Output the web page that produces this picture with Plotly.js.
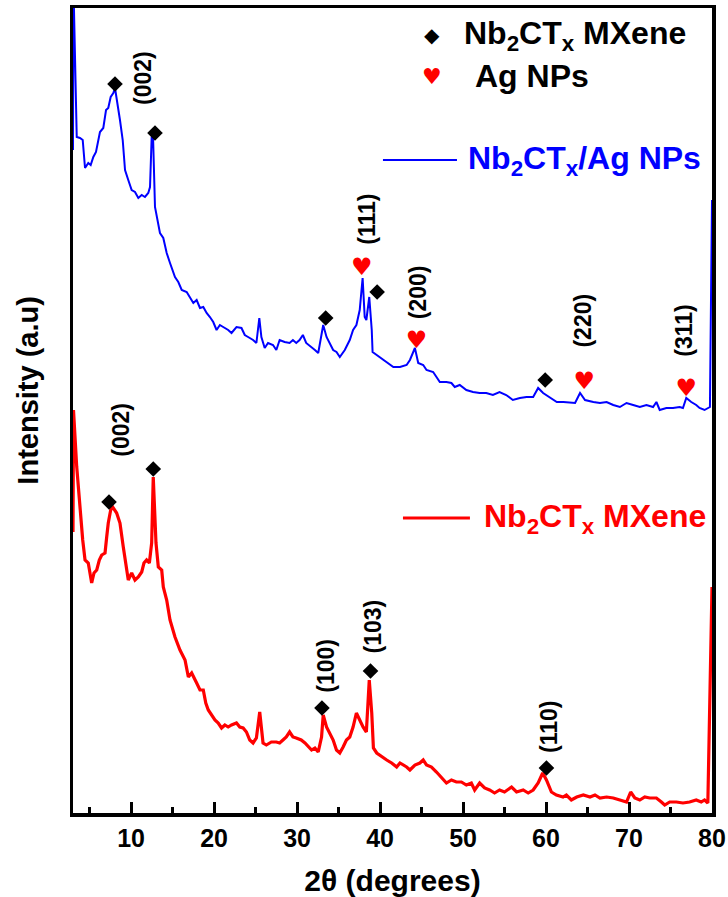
<!DOCTYPE html>
<html>
<head>
<meta charset="utf-8">
<script src="https://cdn.plot.ly/plotly-3.0.1.min.js"></script>
<style>html,body{margin:0;padding:0;background:#fff;}#chart{width:728px;height:897px;}</style>
</head>
<body>
<div id="chart"></div>
<script>
// 2θ (degrees) and intensity (a.u.) for Nb2CTx/Ag NPs (blue)
var blueX = [3.0,3.05,3.45,3.84,4.17,4.45,4.84,5.13,5.45,5.77,
  6.25,6.65,6.98,7.25,7.54,7.86,8.06,8.46,8.66,8.99,
  9.27,9.66,10.07,10.47,10.87,11.28,11.67,12.07,12.28,12.48,
  12.64,12.88,13.16,13.48,13.88,14.29,14.69,15.29,15.69,16.1,
  16.7,17.1,17.5,17.9,18.3,18.7,19.1,19.5,19.9,20.3,
  20.7,21.1,21.7,22.1,22.7,23.3,23.7,24.1,24.7,25.1,
  25.45,25.7,26.1,26.5,27.1,27.5,27.9,28.5,29.1,29.5,
  29.9,30.3,30.7,31.1,31.75,32.15,32.55,33.15,33.55,34.0,
  34.35,34.75,35.15,35.75,36.35,36.75,37.15,37.55,37.9,38.15,
  38.35,38.7,39.0,39.1,39.6,40.0,40.8,41.6,42.4,43.2,
  43.6,44.2,44.6,45.2,45.6,46.4,46.8,47.2,48.0,48.6,
  49.0,49.6,50.4,51.2,52.0,52.8,53.6,54.4,55.2,56.0,
  56.85,57.65,58.45,59.05,59.65,60.5,61.3,62.1,62.9,63.5,
  64.1,64.7,65.7,66.5,67.3,68.1,68.9,69.7,70.5,71.3,
  72.1,72.9,73.3,73.7,74.5,75.3,76.1,76.5,76.9,77.5,
  78.1,78.5,79.1,79.5,79.75,80.0];
var blueY = [663,830,676,675,673,645,650,648,656,661,
  681,685,703,705,716,720,725,706,693,673,
  643,633,623,621,615,618,616,620,626,676,
  678,606,593,580,575,560,550,536,531,523,
  521,515,510,513,505,506,500,496,491,483,
  488,486,483,480,486,485,478,476,473,470,
  495,476,465,470,468,463,473,471,470,473,
  470,473,478,470,466,463,460,488,476,468,
  463,461,456,463,473,483,488,503,535,496,
  493,516,483,461,458,455,450,446,446,448,
  453,465,450,448,443,441,436,431,431,430,
  426,428,423,421,420,420,418,421,418,413,
  415,416,416,425,420,415,411,411,410,410,
  420,413,411,410,411,408,406,410,408,406,
  408,406,411,403,405,405,406,405,415,411,
  408,405,403,405,406,613];

// Nb2CTx MXene (red)
var redX = [3.0,3.06,3.45,3.84,4.17,4.45,4.84,5.25,5.53,5.86,
  6.17,6.46,6.86,7.06,7.25,7.54,7.78,8.26,8.66,9.06,
  9.39,9.66,10.07,10.47,10.87,11.28,11.55,11.87,12.2,12.48,
  12.67,13.0,13.28,13.69,13.88,14.29,14.69,15.29,15.89,16.5,
  16.9,17.3,17.9,18.3,18.7,19.0,19.3,19.7,20.1,20.5,
  20.9,21.3,21.7,22.1,22.7,23.1,23.5,23.9,24.3,24.7,
  25.1,25.5,25.9,26.3,26.9,27.5,27.9,28.3,28.7,29.1,
  29.5,29.9,30.5,30.95,31.35,31.75,32.15,32.55,32.95,33.15,
  33.55,33.95,34.35,34.75,35.15,35.55,35.95,36.35,36.75,37.15,
  37.55,37.95,38.35,38.7,39.0,39.2,39.6,40.2,40.8,41.4,
  42.0,42.4,43.2,43.6,44.2,44.8,45.2,45.6,46.2,46.8,
  47.4,48.0,48.6,49.2,49.8,50.4,51.0,51.4,52.0,52.6,
  53.2,53.8,54.4,55.0,55.85,56.45,57.25,57.85,58.45,59.05,
  59.6,60.05,60.65,61.25,62.05,62.45,63.05,63.7,64.5,65.3,
  65.9,66.5,67.3,68.1,68.9,69.7,70.2,70.7,71.3,71.9,
  72.5,73.3,73.9,74.3,74.9,75.7,76.5,77.3,78.1,78.7,
  79.1,79.5,80.0];
var redY = [281,403,346,303,273,253,250,230,240,243,
  253,258,260,276,290,303,306,300,290,266,
  246,233,240,233,236,241,250,253,250,270,
  336,270,246,243,226,213,193,176,163,153,
  136,140,130,123,123,110,103,98,93,90,
  85,88,86,88,90,86,85,81,73,70,
  75,101,70,68,71,71,70,73,76,81,
  76,75,73,70,66,63,65,61,76,98,
  86,80,73,63,60,66,73,76,86,100,
  93,86,81,133,100,65,60,56,53,50,
  46,50,46,43,48,50,53,48,46,41,
  36,30,33,31,31,28,30,23,30,25,
  23,20,23,21,26,21,23,20,23,30,
  40,33,21,18,16,18,13,16,18,16,
  18,15,16,15,13,11,21,15,13,16,
  15,15,11,8,11,11,10,11,13,11,
  13,10,226];

// phase markers
var mxeneBlueX = [8.06, 12.88, 33.45, 39.65, 59.9];
var mxeneBlueY = [729, 680, 495, 521, 433];
var agBlueX = [37.8, 44.4, 64.6, 76.9];
var agBlueY = [544, 471, 430, 423];
var mxeneRedX = [7.34, 12.67, 33.0, 38.85, 60.05];
var mxeneRedY = [311, 344, 105, 142, 45];

// Miller index labels
var blueHkl = ["(002)", "(111)", "(200)", "(220)", "(311)"];
var blueHklX = [11.43, 38.4, 44.6, 64.4, 76.6];
var blueHklY = [735, 594, 521, 492, 482];
var redHkl = ["(002)", "(100)", "(103)", "(110)"];
var redHklX = [8.75, 33.45, 39.2, 60.35];
var redHklY = [383, 147, 187, 86];

var FONT = "Liberation Sans, Arial, Helvetica, sans-serif";

var traces = [
  {x: blueX, y: blueY, type: "scatter", mode: "lines", line: {color: "#0000ff", width: 2}, hoverinfo: "skip"},
  {x: redX, y: redY, type: "scatter", mode: "lines", line: {color: "#ff0000", width: 3.2}, hoverinfo: "skip"},
  {x: mxeneBlueX, y: mxeneBlueY, type: "scatter", mode: "markers", marker: {symbol: "diamond", size: 12, color: "#000"}, cliponaxis: false},
  {x: mxeneRedX, y: mxeneRedY, type: "scatter", mode: "markers", marker: {symbol: "diamond", size: 12, color: "#000"}, cliponaxis: false},
  {x: agBlueX, y: agBlueY, type: "scatter", mode: "text", text: agBlueX.map(function(){return "\u2665";}),
   textposition: "middle center", textfont: {family: "DejaVu Sans", size: 24, color: "#ff0000"}, cliponaxis: false}
];

var annotations = [];
function addLabels(names, xs, ys) {
  for (var i = 0; i < names.length; i++) {
    annotations.push({x: xs[i], y: ys[i], xref: "x", yref: "y", text: names[i], showarrow: false,
      textangle: -90, xanchor: "center", yanchor: "middle",
      font: {family: FONT, size: 23, color: "#000", weight: "bold"}});
  }
}
addLabels(blueHkl, blueHklX, blueHklY);
addLabels(redHkl, redHklX, redHklY);

// legend-like keys
annotations.push({x: 46.2, y: 778, xref: "x", yref: "y", text: "\u25C6", showarrow: false, xanchor: "center", yanchor: "middle",
  font: {family: "DejaVu Sans", size: 20, color: "#000"}});
annotations.push({x: 49.87, y: 778, xref: "x", yref: "y", text: "Nb<sub>2</sub>CT<sub>x</sub> MXene", showarrow: false, xanchor: "left", yanchor: "middle",
  font: {family: FONT, size: 32, color: "#000", weight: "bold"}});
annotations.push({x: 46.2, y: 737, xref: "x", yref: "y", text: "\u2665", showarrow: false, xanchor: "center", yanchor: "middle",
  font: {family: "DejaVu Sans", size: 22, color: "#ff0000"}});
annotations.push({x: 51.2, y: 737, xref: "x", yref: "y", text: "Ag NPs", showarrow: false, xanchor: "left", yanchor: "middle",
  font: {family: FONT, size: 32, color: "#000", weight: "bold"}});
annotations.push({x: 50.3, y: 653, xref: "x", yref: "y", text: "Nb<sub>2</sub>CT<sub>x</sub>/Ag NPs", showarrow: false, xanchor: "left", yanchor: "middle",
  font: {family: FONT, size: 32, color: "#0000ff", weight: "bold"}});
annotations.push({x: 52.3, y: 295, xref: "x", yref: "y", text: "Nb<sub>2</sub>CT<sub>x</sub> MXene", showarrow: false, xanchor: "left", yanchor: "middle",
  font: {family: FONT, size: 32, color: "#ff0000", weight: "bold"}});

// y-axis title placed to match the reference (slightly above the plot centre)
annotations.push({x: -0.07, y: 0.525, xref: "paper", yref: "paper", text: "Intensity (a.u)", showarrow: false,
  textangle: -90, xanchor: "center", yanchor: "middle",
  font: {family: FONT, size: 29, color: "#000", weight: "bold"}});

var shapes = [
  {type: "line", xref: "x", yref: "y", x0: 40.35, x1: 49.27, y0: 653, y1: 653, line: {color: "#0000ff", width: 2}},
  {type: "line", xref: "x", yref: "y", x0: 42.76, x1: 50.83, y0: 295, y1: 295, line: {color: "#ff0000", width: 3}}
];

var layout = {
  width: 728, height: 897,
  margin: {l: 73, r: 16, t: 8, b: 84},
  paper_bgcolor: "#fff", plot_bgcolor: "#fff",
  showlegend: false,
  xaxis: {
    range: [3, 80], tick0: 0, dtick: 10,
    ticks: "inside", ticklen: 11, tickwidth: 3, tickcolor: "#000",
    minor: {tick0: 0, dtick: 5, ticks: "inside", ticklen: 6, tickwidth: 3, tickcolor: "#000", showgrid: false},
    showline: true, linewidth: 3.5, linecolor: "#000", mirror: true,
    showgrid: false, zeroline: false, layer: "below traces",
    tickfont: {family: FONT, size: 25, color: "#000", weight: "bold"},
    title: {text: "2θ (degrees)", standoff: 20, font: {family: FONT, size: 30, color: "#000", weight: "bold"}}
  },
  yaxis: {
    range: [0, 805], showticklabels: false, ticks: "",
    showline: true, linewidth: 3.5, linecolor: "#000", mirror: true,
    showgrid: false, zeroline: false, layer: "below traces"
  },
  annotations: annotations,
  shapes: shapes,
  font: {family: FONT}
};

Plotly.newPlot("chart", traces, layout, {displayModeBar: false, staticPlot: true});
</script>
</body>
</html>
